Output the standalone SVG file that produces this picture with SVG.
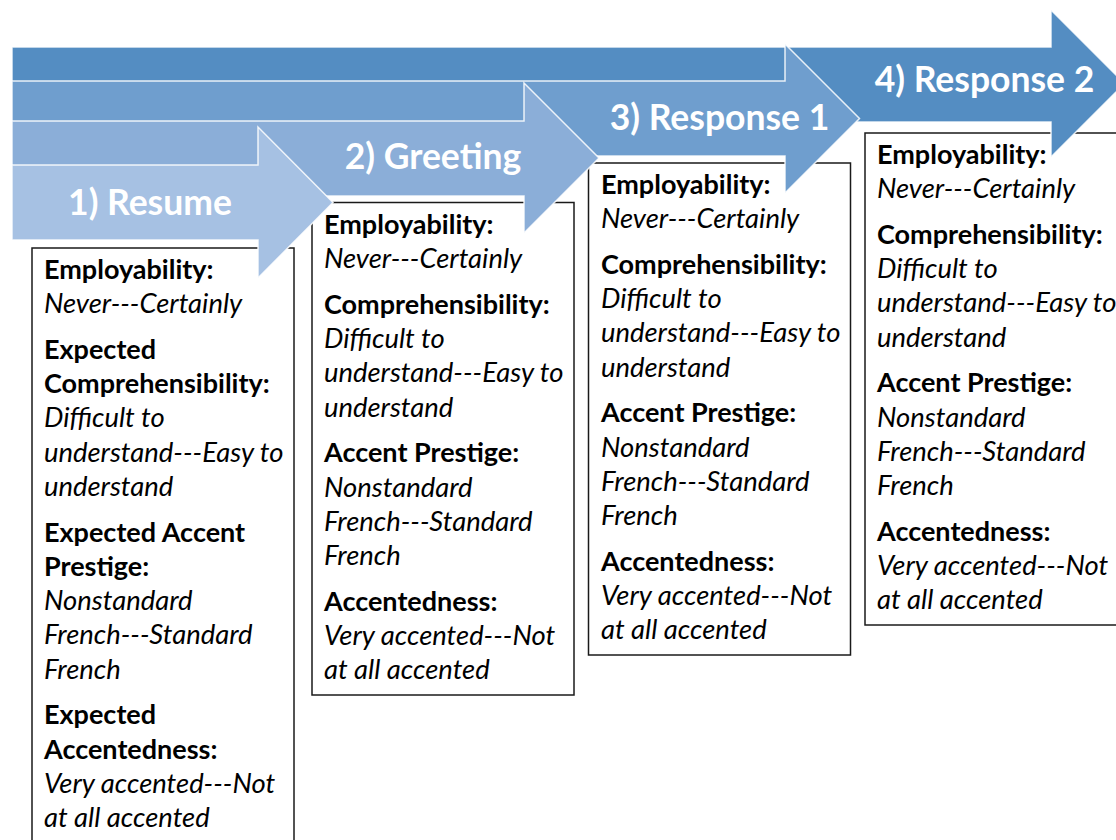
<svg xmlns="http://www.w3.org/2000/svg" width="1116" height="840" viewBox="0 0 1116 840">
  <style>
    .bg { fill: #ffffff; }
    .box { fill: #ffffff; stroke: #1a1a1a; stroke-width: 1.5; }
    .arrow { stroke: #ffffff; stroke-width: 1.5; stroke-opacity: 0.85; stroke-linejoin: miter; }
    .a1 { fill: #A6C1E3; }
    .a2 { fill: #8BAED8; }
    .a3 { fill: #6F9ECE; }
    .a4 { fill: #548DC2; }
    .title { font-family: Lato, "Open Sans", "Liberation Sans", sans-serif; font-weight: bold; font-size: 35.5px; fill: #ffffff; text-anchor: middle; }
    .h { font-family: Lato, "Open Sans", "Liberation Sans", sans-serif; font-weight: bold; font-size: 27px; fill: #000000; }
    .v { font-family: Lato, "Open Sans", "Liberation Sans", sans-serif; font-style: italic; font-size: 27.4px; fill: #000000; }
  </style>

  <rect class="bg" x="0" y="0" width="1116" height="840"/>

  <!-- rating boxes (drawn first so the arrow heads sit on top) -->
  <g id="box-resume">
    <rect class="box" x="32" y="248" width="262" height="620"/>
    <text class="h" x="44" y="279">Employability:</text>
    <text class="v" x="44" y="313.3">Never---Certainly</text>
    <text class="h" x="44" y="358.8">Expected</text>
    <text class="h" x="44" y="393.1">Comprehensibility:</text>
    <text class="v" x="44" y="427.4">Difficult to</text>
    <text class="v" x="44" y="461.7">understand---Easy to</text>
    <text class="v" x="44" y="496">understand</text>
    <text class="h" x="44" y="541.5">Expected Accent</text>
    <text class="h" x="44" y="575.8">Prestige:</text>
    <text class="v" x="44" y="610.1">Nonstandard</text>
    <text class="v" x="44" y="644.4">French---Standard</text>
    <text class="v" x="44" y="678.7">French</text>
    <text class="h" x="44" y="724.2">Expected</text>
    <text class="h" x="44" y="758.5">Accentedness:</text>
    <text class="v" x="44" y="792.8">Very accented---Not</text>
    <text class="v" x="44" y="827.1">at all accented</text>
  </g>

  <g id="box-greeting">
    <rect class="box" x="312" y="202.5" width="262" height="492.5"/>
    <text class="h" x="324" y="234">Employability:</text>
    <text class="v" x="324" y="268.3">Never---Certainly</text>
    <text class="h" x="324" y="313.8">Comprehensibility:</text>
    <text class="v" x="324" y="348.1">Difficult to</text>
    <text class="v" x="324" y="382.4">understand---Easy to</text>
    <text class="v" x="324" y="416.7">understand</text>
    <text class="h" x="324" y="462.2">Accent Prestige:</text>
    <text class="v" x="324" y="496.5">Nonstandard</text>
    <text class="v" x="324" y="530.8">French---Standard</text>
    <text class="v" x="324" y="565.1">French</text>
    <text class="h" x="324" y="610.6">Accentedness:</text>
    <text class="v" x="324" y="644.9">Very accented---Not</text>
    <text class="v" x="324" y="679.2">at all accented</text>
  </g>

  <g id="box-response1">
    <rect class="box" x="588.5" y="163" width="262" height="492"/>
    <text class="h" x="601" y="194">Employability:</text>
    <text class="v" x="601" y="228.3">Never---Certainly</text>
    <text class="h" x="601" y="273.8">Comprehensibility:</text>
    <text class="v" x="601" y="308.1">Difficult to</text>
    <text class="v" x="601" y="342.4">understand---Easy to</text>
    <text class="v" x="601" y="376.7">understand</text>
    <text class="h" x="601" y="422.2">Accent Prestige:</text>
    <text class="v" x="601" y="456.5">Nonstandard</text>
    <text class="v" x="601" y="490.8">French---Standard</text>
    <text class="v" x="601" y="525.1">French</text>
    <text class="h" x="601" y="570.6">Accentedness:</text>
    <text class="v" x="601" y="604.9">Very accented---Not</text>
    <text class="v" x="601" y="639.2">at all accented</text>
  </g>

  <g id="box-response2">
    <rect class="box" x="865" y="133" width="262" height="492"/>
    <text class="h" x="877" y="164">Employability:</text>
    <text class="v" x="877" y="198.3">Never---Certainly</text>
    <text class="h" x="877" y="243.8">Comprehensibility:</text>
    <text class="v" x="877" y="278.1">Difficult to</text>
    <text class="v" x="877" y="312.4">understand---Easy to</text>
    <text class="v" x="877" y="346.7">understand</text>
    <text class="h" x="877" y="392.2">Accent Prestige:</text>
    <text class="v" x="877" y="426.5">Nonstandard</text>
    <text class="v" x="877" y="460.8">French---Standard</text>
    <text class="v" x="877" y="495.1">French</text>
    <text class="h" x="877" y="540.6">Accentedness:</text>
    <text class="v" x="877" y="574.9">Very accented---Not</text>
    <text class="v" x="877" y="609.2">at all accented</text>
  </g>

  <!-- stacked step arrows, back to front -->
  <g id="step-response2">
    <polygon class="arrow a4" points="12,47 1051,47 1051,10 1124.5,83.5 1051,157 1051,122 12,122"/>
    <text class="title" x="984.5" y="92">4) Response 2</text>
  </g>
  <g id="step-response1">
    <polygon class="arrow a3" points="12,81 785,81 785,44 859.5,118.5 785,193 785,156 12,156"/>
    <text class="title" x="719.5" y="130">3) Response 1</text>
  </g>
  <g id="step-greeting">
    <polygon class="arrow a2" points="12,121 524,121 524,83 599,158 524,233 524,196 12,196"/>
    <text class="title" x="433" y="169">2) Greeting</text>
  </g>
  <g id="step-resume">
    <polygon class="arrow a1" points="12,165 258,165 258,127 333,202.5 258,278 258,240 12,240"/>
    <text class="title" x="150" y="215">1) Resume</text>
  </g>
</svg>
